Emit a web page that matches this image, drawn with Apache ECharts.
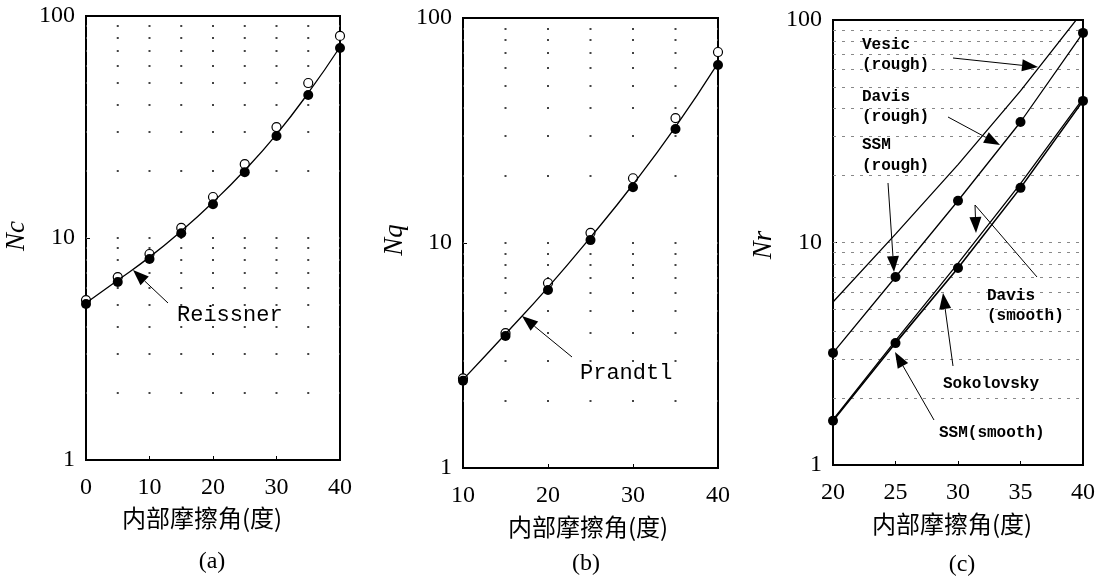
<!DOCTYPE html>
<html><head><meta charset="utf-8">
<script src="https://cdn.jsdelivr.net/npm/echarts@6/dist/echarts.min.js"></script>
<style>html,body{margin:0;padding:0;background:#fff}#c{width:1110px;height:580px}</style>
</head><body><div id="c"></div>
<script>
// ---------- data ----------
const phiA = [0, 5, 10, 15, 20, 25, 30, 35, 40];
const ncOpen = [5.25, 6.67, 8.47, 11.1, 15.3, 21.5, 31.6, 49.9, 81.3];
const ncSolid = [5.04, 6.34, 8.04, 10.5, 14.2, 19.8, 28.8, 44.1, 71.8];
const reissner = [5.1, 6.45, 8.2, 10.75, 14.5, 20.2, 29.3, 45.0, 72.5];

const phiB = [10, 15, 20, 25, 30, 35, 40];
const nqOpen = [2.5, 3.98, 6.64, 11.1, 19.4, 35.9, 70.6];
const nqSolid = [2.44, 3.86, 6.18, 10.3, 17.7, 32.1, 61.8];
const prandtl = [2.47, 3.94, 6.35, 10.6, 18.2, 32.8, 63.0];

const phiC = [20, 25, 30, 35, 40];
const vesicRough = [5.4, 10.9, 22.4, 48.0, 109.4];
const davisRough = [3.19, 7.0, 15.4, 34.8, 87.5];
const ssmRough = [3.19, 7.0, 15.4, 34.8, 87.5];
const davisSmooth = [1.6, 3.62, 8.05, 18.4, 44.3];
const sokolovsky = [1.58, 3.53, 7.68, 17.6, 43.3];
const ssmSmooth = [1.58, 3.53, 7.68, 17.6, 43.3];

const yGrid = [2, 3, 4, 5, 6, 7, 8, 9, 10, 20, 30, 40, 50, 60, 70, 80, 90];
const yTitles = ['Nc', 'Nq', 'Nr'];
const xTitle = '内部摩擦角(度)';
const captions = ['(a)', '(b)', '(c)'];

// ---------- helpers ----------
const pair = (xs, ys) => xs.map((x, i) => [x, ys[i]]);
const serif = '"Liberation Serif","DejaVu Serif",serif';
const mono = '"Liberation Mono","DejaVu Sans Mono",monospace';

const grids = [
  {left: 86, top: 16, width: 254, height: 444},
  {left: 463, top: 18, width: 255, height: 450},
  {left: 833, top: 20, width: 250, height: 445}
].map(g => Object.assign(g, {show: true, borderColor: '#000', borderWidth: 2, backgroundColor: 'transparent'}));

const xCfg = [{min: 0, max: 40, interval: 10}, {min: 10, max: 40, interval: 10}, {min: 20, max: 40, interval: 5}];
const xAxes = xCfg.map((c, i) => ({
  type: 'value', gridIndex: i, min: c.min, max: c.max, interval: c.interval,
  axisLine: {show: false},
  axisTick: {show: true, inside: true, length: 4, lineStyle: {color: '#000', width: 1}},
  splitLine: {show: false},
  axisLabel: {color: '#000', fontFamily: serif, fontSize: 24, margin: 16}
}));
const yAxes = [0, 1, 2].map(i => ({
  type: 'log', logBase: 10, gridIndex: i, min: 1, max: 100,
  axisLine: {show: false},
  axisTick: {show: true, inside: true, length: 4, lineStyle: {color: '#000', width: 1}},
  splitLine: {show: false},
  axisLabel: {color: '#000', fontFamily: serif, fontSize: 24, margin: 11}
}));

function gridSeries(i, period, dark) {
  return {
    type: 'scatter', xAxisIndex: i, yAxisIndex: i, data: [], z: 1, silent: true,
    markLine: {
      z: 1, silent: true, symbol: ['none', 'none'], label: {show: false}, animation: false,
      lineStyle: dark
        ? {color: '#444', width: 1.8, type: [2, period - 2], dashOffset: 1, opacity: 1}
        : {color: '#888', width: 1, type: [3, 6], opacity: 1},
      emphasis: {disabled: true},
      data: yGrid.map(v => ({yAxis: v}))
    }
  };
}

function openPts(i, data) {
  return {type: 'scatter', xAxisIndex: i, yAxisIndex: i, data: data, symbol: 'circle', symbolSize: 9,
    itemStyle: {color: '#fff', borderColor: '#000', borderWidth: 1.2, opacity: 1}, z: 3, silent: true};
}
function solidPts(i, data) {
  return {type: 'scatter', xAxisIndex: i, yAxisIndex: i, data: data, symbol: 'circle', symbolSize: 10,
    itemStyle: {color: '#000', opacity: 1}, z: 5, silent: true};
}
function curve(i, data, smooth, w) {
  return {type: 'line', xAxisIndex: i, yAxisIndex: i, data: data, showSymbol: false, smooth: smooth,
    lineStyle: {color: '#000', width: w || 1.3}, z: 4, silent: true, clip: true};
}

const series = [
  gridSeries(0, 254 / 8, true),
  openPts(0, pair(phiA, ncOpen)),
  curve(0, pair(phiA, reissner), true),
  solidPts(0, pair(phiA, ncSolid)),
  gridSeries(1, 255 / 6, true),
  openPts(1, pair(phiB, nqOpen)),
  curve(1, pair(phiB, prandtl), true),
  solidPts(1, pair(phiB, nqSolid)),
  gridSeries(2, 0, false),
  curve(2, pair(phiC, vesicRough), false),
  curve(2, pair(phiC, davisRough), false),
  curve(2, pair(phiC, davisSmooth), false),
  curve(2, pair(phiC, sokolovsky), false, 1.6),
  solidPts(2, pair(phiC, ssmRough)),
  solidPts(2, pair(phiC, ssmSmooth))
];

// ---------- annotations (pixel layout) ----------
const g = [];
function txt(x, y, s, font, align, rot) {
  g.push({type: 'text', x: x, y: y, rotation: rot || 0, z: 100, silent: true,
    style: {text: s, font: font, fill: '#000', align: align || 'left', verticalAlign: 'middle',
      textAlign: align || 'left', textVerticalAlign: 'middle'}});
}
function seg(x1, y1, x2, y2) {
  g.push({type: 'line', z: 100, silent: true, shape: {x1, y1, x2, y2}, style: {stroke: '#000', lineWidth: 1}});
}
function arrow(x1, y1, x2, y2, len, wid) {
  len = len || 16; wid = wid || 12;
  const dx = x2 - x1, dy = y2 - y1, d = Math.hypot(dx, dy), ux = dx / d, uy = dy / d;
  const bx = x2 - ux * len, by = y2 - uy * len;
  seg(x1, y1, bx, by);
  g.push({type: 'polygon', z: 100, silent: true,
    shape: {points: [[x2, y2], [bx - uy * wid / 2, by + ux * wid / 2], [bx + uy * wid / 2, by - ux * wid / 2]]},
    style: {fill: '#000'}});
}

// axis titles & captions
const titleFont = '24px "Noto Sans CJK SC","Noto Sans CJK JP",sans-serif';
txt(17, 236, yTitles[0], 'italic 27px ' + serif, 'center', Math.PI / 2);
txt(395, 240, yTitles[1], 'italic 27px ' + serif, 'center', Math.PI / 2);
txt(764, 245, yTitles[2], 'italic 27px ' + serif, 'center', Math.PI / 2);
txt(202, 518, xTitle, titleFont, 'center');
txt(588, 527, xTitle, titleFont, 'center');
txt(952, 524, xTitle, titleFont, 'center');
txt(212, 562, captions[0], '24px ' + serif, 'center');
txt(586, 564, captions[1], '24px ' + serif, 'center');
txt(962, 565, captions[2], '24px ' + serif, 'center');

// panel a
arrow(168, 303, 133, 270);
txt(177, 315, 'Reissner', '22px ' + mono);
// panel b
arrow(572, 357, 522, 316);
txt(580, 373, 'Prandtl', '22px ' + mono);
// panel c
const cf = 'bold 16px ' + mono;
txt(862, 45, 'Vesic', cf); txt(862, 65, '(rough)', cf);
arrow(953, 58, 1038, 67);
txt(862, 97, 'Davis', cf); txt(862, 117, '(rough)', cf);
arrow(948, 117, 1000, 145);
txt(862, 145, 'SSM', cf); txt(862, 166, '(rough)', cf);
arrow(888, 183, 894, 272);
txt(987, 296, 'Davis', cf); txt(987, 316, '(smooth)', cf);
seg(1037, 277, 975, 205);
arrow(975, 205, 976, 233, 16, 12);
txt(943, 384, 'Sokolovsky', cf);
arrow(953, 366, 943, 293);
txt(939, 433, 'SSM(smooth)', cf);
arrow(934, 420, 895, 352);

const chart = echarts.init(document.getElementById('c'), null, {renderer: 'canvas'});
chart.setOption({
  animation: false,
  backgroundColor: '#fff',
  grid: grids,
  xAxis: xAxes,
  yAxis: yAxes,
  series: series,
  graphic: {elements: g}
});
</script></body></html>
